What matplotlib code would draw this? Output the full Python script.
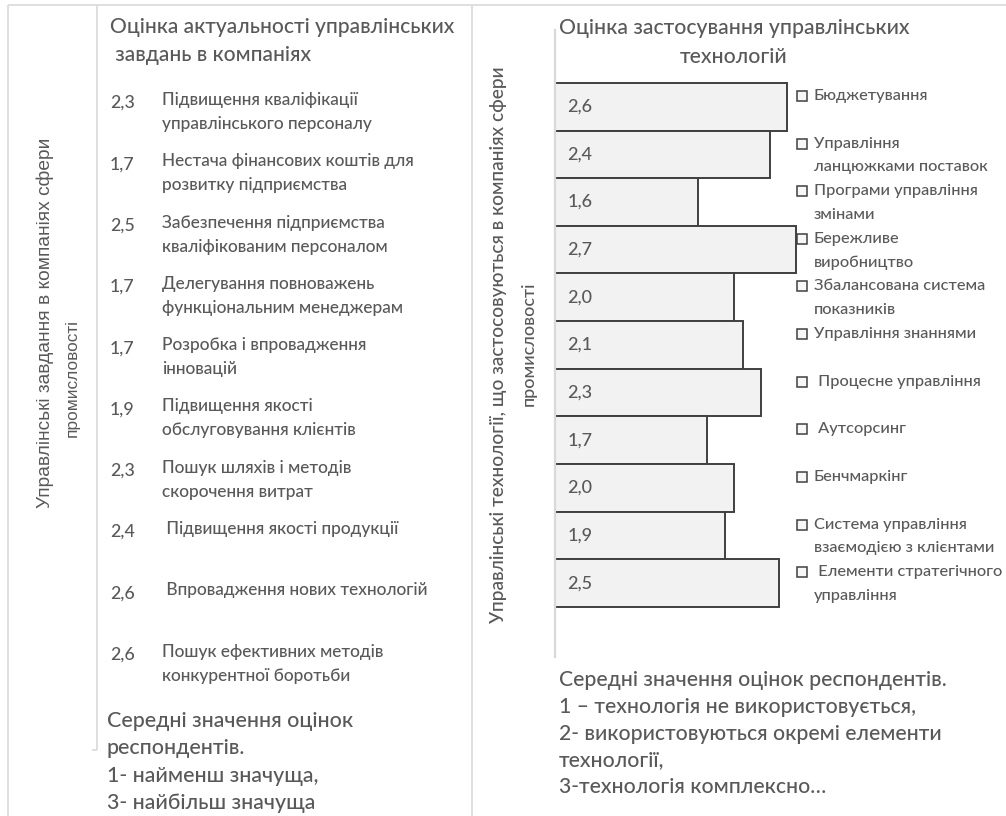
import matplotlib
matplotlib.use("Agg")
import matplotlib.pyplot as plt
import matplotlib.transforms as mtransforms

plt.rcParams['font.family'] = ['Lato', 'Noto Sans', 'DejaVu Sans']
plt.rcParams['font.weight'] = 'medium'

# ---------------- data ----------------
left_title = "Оцінка актуальності управлінських\n завдань в компаніях"
left_ylabel_1 = "Управлінські завдання в компаніях сфери"
left_ylabel_2 = "промисловості"
task_values = [2.3, 1.7, 2.5, 1.7, 1.7, 1.9, 2.3, 2.4, 2.6, 2.6]
task_labels = [
    "Підвищення кваліфікації\nуправлінського персоналу",
    "Нестача фінансових коштів для\nрозвитку підприємства",
    "Забезпечення підприємства\nкваліфікованим персоналом",
    "Делегування повноважень\nфункціональним менеджерам",
    "Розробка і впровадження\nінновацій",
    "Підвищення якості\nобслуговування клієнтів",
    "Пошук шляхів і методів\nскорочення витрат",
    " Підвищення якості продукції",
    " Впровадження нових технологій",
    "Пошук ефективних методів\nконкурентної боротьби",
]
left_note = ["Середні значення оцінок", "респондентів.",
             "1- найменш значуща,", "3- найбільш значуща"]

right_title = "Оцінка застосування управлінських\nтехнологій"
right_ylabel_1 = "Управлінські технології, що застосовуються в компаніях сфери"
right_ylabel_2 = "промисловості"
tech_values = [2.6, 2.4, 1.6, 2.7, 2.0, 2.1, 2.3, 1.7, 2.0, 1.9, 2.5]
tech_labels = [
    "Бюджетування",
    "Управління\nланцюжками поставок",
    "Програми управління\nзмінами",
    "Бережливе\nвиробництво",
    "Збалансована система\nпоказників",
    "Управління знаннями",
    " Процесне управління",
    " Аутсорсинг",
    "Бенчмаркінг",
    "Система управління\nвзаємодією з клієнтами",
    " Елементи стратегічного\nуправління",
]
right_note = ["Середні значення оцінок респондентів.",
              "1 – технологія не використовується,",
              "2- використовуються окремі елементи",
              "технології,",
              "3-технологія комплексно…"]

# ---------------- style ----------------
W, H = 1006, 816
TXT = '#595959'
FRAME = '#d9d9d9'
BAR_FACE = '#f2f2f2'
BAR_EDGE = '#404040'

fig = plt.figure(figsize=(W / 100, H / 100), dpi=100)
fig.patch.set_facecolor('white')

# overlay axes in pixel coordinates
ax0 = fig.add_axes([0, 0, 1, 1])
ax0.set_xlim(0, W)
ax0.set_ylim(H, 0)
ax0.axis('off')

# frames
fk = dict(color=FRAME, lw=1.2, solid_capstyle='butt')
ax0.plot([8, 8], [5, H], **fk)
ax0.plot([8, W], [5, 5], **fk)
ax0.plot([472, 472], [5, H], **fk)
ax0.plot([97, 97], [5, 750], **fk)
ax0.plot([92, 97], [750, 750], **fk)

# ---------------- left panel ----------------
for j, line in enumerate(left_title.split("\n")):
    ax0.text(110, 27 + 28 * j, line, fontsize=15.1, color=TXT, va='center', ha='left')

ax0.text(45, 323, left_ylabel_1, rotation=90, fontsize=13.8, color=TXT,
         va='center', ha='center', family=['Liberation Sans', 'DejaVu Sans'],
         fontweight='normal')
ax0.text(72, 378, left_ylabel_2, rotation=90, fontsize=12.4, color=TXT,
         va='center', ha='center', family=['Liberation Sans', 'DejaVu Sans'],
         fontweight='normal')

row0, row_step = 103, 61.3
for i, (v, lab) in enumerate(zip(task_values, task_labels)):
    y = row0 + row_step * i
    ax0.text(110, y, f"{v:.1f}".replace('.', ','), fontsize=12.8, color=TXT,
             va='center', ha='left')
    for j, line in enumerate(lab.split("\n")):
        ax0.text(162, y - 3 + 24 * j, line, fontsize=12.4, color=TXT,
                 va='center', ha='left')

for j, line in enumerate(left_note):
    ax0.text(107, 721 + 27.3 * j, line, fontsize=15.4, color=TXT, va='center', ha='left')

# ---------------- right panel ----------------
px_per_unit = 89.4
xmax = 2.8
ax_top, ax_bot = 30, 657
ax = fig.add_axes([555 / W, (H - ax_bot) / H, xmax * px_per_unit / W, (ax_bot - ax_top) / H])
n = len(tech_values)
ypos = list(range(n))
ax.barh(ypos, tech_values, height=1.0, color=BAR_FACE, edgecolor=BAR_EDGE, linewidth=1.4)
ax.set_xlim(0, xmax)
ax.set_ylim(n - 0.5 + 1.05, -0.5 - 1.11)
for s in ['top', 'right', 'bottom']:
    ax.spines[s].set_visible(False)
ax.spines['left'].set_color(FRAME)
ax.spines['left'].set_linewidth(1.6)
ax.spines['left'].set_zorder(5)
ax.set_xticks([])
ax.set_yticks([])
ax.patch.set_alpha(0)

for i, v in enumerate(tech_values):
    ax.text(0.14, i, f"{v:.1f}".replace('.', ','), fontsize=13, color=TXT,
            va='center', ha='left')

blend = mtransforms.blended_transform_factory(ax0.transData, ax.transData)
row_px = (ax_bot - ax_top) / (n + 1.05 + 1.11)
for i, lab in enumerate(tech_labels):
    y_first = i - 0.5 + 13 / row_px
    ax0.plot([802], [y_first], marker='s', markersize=6.8, markerfacecolor='#f7f7f7',
             markeredgecolor=BAR_EDGE, markeredgewidth=1.1, transform=blend, clip_on=False)
    for j, line in enumerate(lab.split("\n")):
        ax0.text(814, y_first + j * 23.5 / row_px, line, fontsize=11.8, color=TXT,
                 va='center', ha='left', transform=blend, clip_on=False)

for j, line in enumerate(right_title.split("\n")):
    ax0.text(734, 28 + 29 * j, line, fontsize=15.2, color=TXT, va='center', ha='center')

ax0.text(499, 345, right_ylabel_1, rotation=90, fontsize=13.8, color=TXT,
         va='center', ha='center')
ax0.text(529, 344, right_ylabel_2, rotation=90, fontsize=12.9, color=TXT,
         va='center', ha='center')

for j, line in enumerate(right_note):
    ax0.text(559, 680 + 26.8 * j, line, fontsize=15.2, color=TXT, va='center', ha='left')

fig.savefig("out.png", dpi=100)
